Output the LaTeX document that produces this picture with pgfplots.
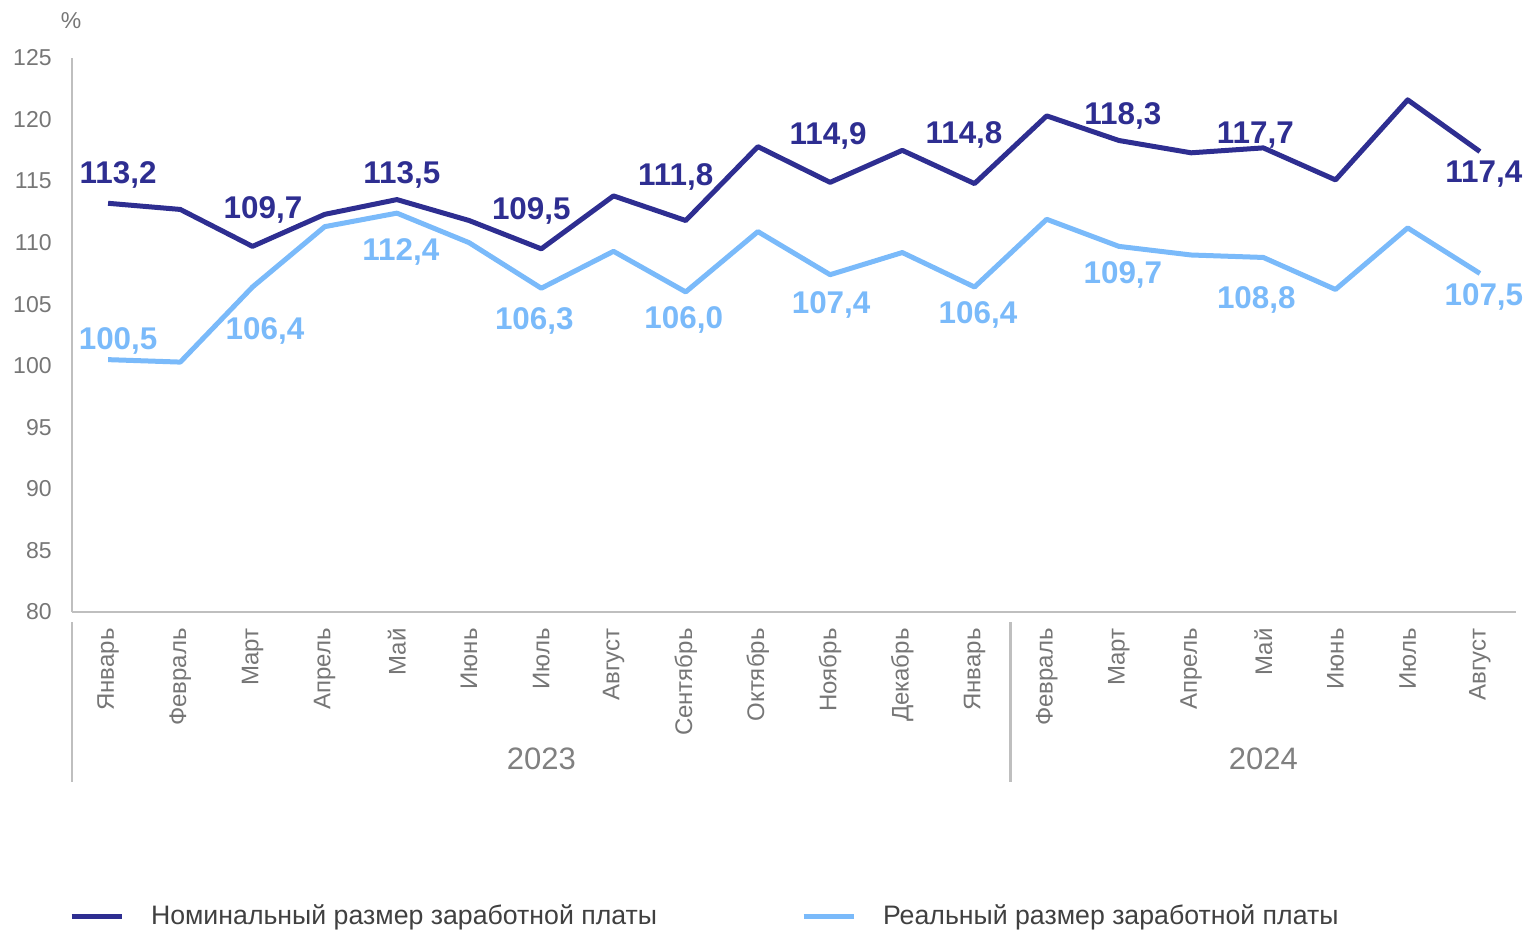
\documentclass[border=0pt]{standalone}
\usepackage{pgfplots}
\pgfplotsset{compat=1.18}
\usepackage{pgfplotstable}
\usepackage{fontspec}
\setmainfont{Liberation Sans}
\definecolor{dark}{RGB}{46,46,145}
\definecolor{light}{RGB}{122,186,250}
\definecolor{txtgrey}{RGB}{118,118,118}
\definecolor{yeargrey}{RGB}{128,128,128}
\definecolor{axgrey}{RGB}{191,191,191}
\definecolor{legtxt}{RGB}{64,64,64}

\pgfplotstableread{
x y
0 113.2
1 112.7
2 109.7
3 112.3
4 113.5
5 111.8
6 109.5
7 113.8
8 111.8
9 117.8
10 114.9
11 117.5
12 114.8
13 120.3
14 118.3
15 117.3
16 117.7
17 115.1
18 121.6
19 117.4
}\darkdata

\pgfplotstableread{
x y
0 100.5
1 100.3
2 106.4
3 111.3
4 112.4
5 110.0
6 106.3
7 109.3
8 106.0
9 110.9
10 107.4
11 109.2
12 106.4
13 111.9
14 109.7
15 109.0
16 108.8
17 106.2
18 111.2
19 107.5
}\lightdata

\pgfplotstableread{
x y lab dx dy
0 113.2 113,2 5 15.5
2 109.7 109,7 5.25 19.5
4 113.5 113,5 2.5 13.5
6 109.5 109,5 -5 20.5
8 111.8 111,8 -5 23
10 114.9 114,9 -1 24.5
12 114.8 114,8 -5.25 25.5
14 118.3 118,3 2 13.5
16 117.7 117,7 -4 8
19 117.4 117,4 2 -10
}\darklab

\pgfplotstableread{
x y lab dx dy
0 100.5 100,5 5 10.5
2 106.4 106,4 6.25 -20.5
4 112.4 112,4 2 -18
6 106.3 106,3 -3.5 -15
8 106.0 106,0 -1 -12.5
10 107.4 107,4 0.5 -14
12 106.4 106,4 1.75 -12.5
14 109.7 109,7 2 -13
16 108.8 108,8 -3.5 -20
19 107.5 107,5 2 -10.5
}\lightlab

\begin{document}
\begin{tikzpicture}
\useasboundingbox (0,0) rectangle (763pt,-466.5pt);
\begin{axis}[
  at={(36pt,-306pt)}, anchor=south west,
  scale only axis, width=722pt, height=277pt,
  xmin=-0.5, xmax=19.5, ymin=80, ymax=125,
  axis x line=bottom, axis y line=left,
  axis line style={-, axgrey, line width=1.2pt},
  xtick={0,...,19},
  xticklabels={Январь,Февраль,Март,Апрель,Май,Июнь,Июль,Август,Сентябрь,Октябрь,Ноябрь,Декабрь,Январь,Февраль,Март,Апрель,Май,Июнь,Июль,Август},
  ytick={80,85,...,125},
  major tick length=0pt,
  tick style={draw=none},
  xticklabel style={rotate=90, anchor=east, inner sep=0pt, font=\fontsize{12}{14}\selectfont, text=txtgrey},
  xticklabel shift=8pt,
  yticklabel style={inner sep=0pt, font=\fontsize{11.5}{13}\selectfont, text=txtgrey},
  yticklabel shift=10pt,
  /pgf/number format/assume math mode=true,
  clip=false,
  legend columns=2,
  legend cell align=left,
  legend style={at={(0,0)}, anchor=west, yshift=-152pt, xshift=-1.5pt, draw=none, fill=none,
    inner sep=0pt, outer sep=0pt,
    nodes={inner sep=0pt, text=legtxt, font=\fontsize{13.35}{15}\selectfont},
    /tikz/every odd column/.append style={column sep=13.5pt},
    /tikz/every even column/.append style={column sep=72pt}},
  legend image code/.code={\draw[#1] (0pt,0pt) -- (25pt,0pt);},
]
\addplot[dark, line width=2.5pt, line join=round] table[x=x,y=y]{\darkdata};
\addlegendentry{Номинальный размер заработной платы}
\addplot[light, line width=2.5pt, line join=round] table[x=x,y=y]{\lightdata};
\addlegendentry{Реальный размер заработной платы}

\addplot[forget plot, draw=none, nodes near coords, point meta=explicit symbolic,
  visualization depends on={\thisrow{dx}\as\dx},
  visualization depends on={\thisrow{dy}\as\dy},
  every node near coord/.append style={anchor=base, inner sep=0pt, text=dark,
    font=\bfseries\fontsize{15.7}{17}\selectfont, xshift=\dx pt, yshift={\dy pt-5.6pt}}]
  table[x=x,y=y,meta=lab]{\darklab};
\addplot[forget plot, draw=none, nodes near coords, point meta=explicit symbolic,
  visualization depends on={\thisrow{dx}\as\dx},
  visualization depends on={\thisrow{dy}\as\dy},
  every node near coord/.append style={anchor=base, inner sep=0pt, text=light,
    font=\bfseries\fontsize{15.7}{17}\selectfont, xshift=\dx pt, yshift={\dy pt-5.6pt}}]
  table[x=x,y=y,meta=lab]{\lightlab};

\draw[axgrey, line width=1.2pt] (axis cs:-0.5,80) ++(0pt,-5pt) -- ++(0pt,-80pt);
\draw[axgrey, line width=1.2pt] (axis cs:12.5,80) ++(0pt,-5pt) -- ++(0pt,-80pt);
\node[text=yeargrey, font=\fontsize{15.5}{18}\selectfont, inner sep=0pt, yshift=-73.5pt] at (axis cs:6,80) {2023};
\node[text=yeargrey, font=\fontsize{15.5}{18}\selectfont, inner sep=0pt, yshift=-73.5pt] at (axis cs:16,80) {2024};
\node[text=txtgrey, font=\fontsize{11.5}{13}\selectfont, inner sep=0pt, yshift=18.75pt, xshift=-0.5pt] at (rel axis cs:0,1) {\%};
\end{axis}
\end{tikzpicture}
\end{document}
